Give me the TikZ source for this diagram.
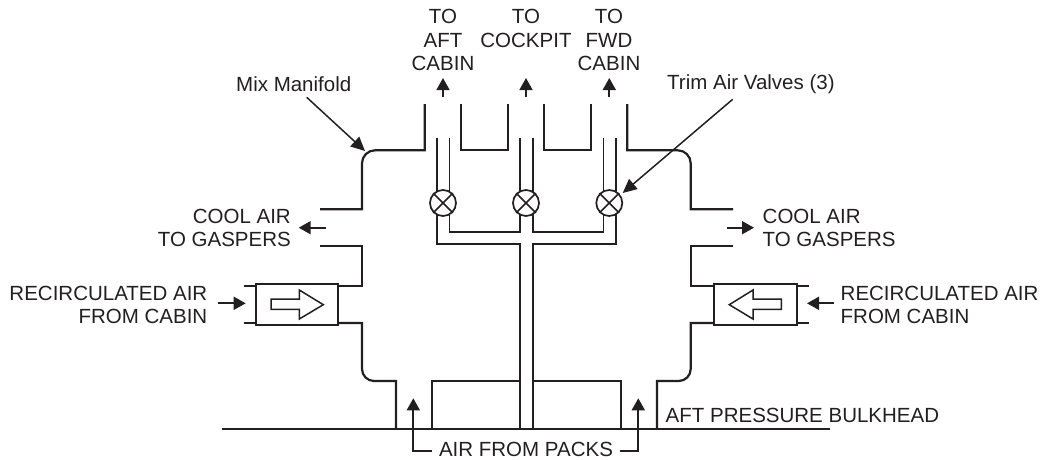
\documentclass[tikz,border=0pt]{standalone}
\usepackage{fontspec}
\setmainfont{Liberation Sans}
\usetikzlibrary{arrows.meta}
\definecolor{ink}{HTML}{231F20}
\tikzset{
  duct/.style={line width=2.2pt,color=ink,line join=miter},
  tube/.style={line width=1.6pt,color=ink},
  flow/.style={line width=1.7pt,color=ink,-{Triangle[length=12pt,width=13pt]}},
  leader/.style={line width=1.5pt,color=ink,-{Triangle[length=14pt,width=13pt]}},
  lbl/.style={inner sep=0pt,align=center,text=ink,font=\fontsize{20.5}{23.2}\selectfont},
  housing/.style={line width=1.7pt,color=ink,fill=white},
  valve/.style={circle,draw=ink,line width=1.7pt,fill=white,minimum size=26pt,inner sep=0pt}
}
\begin{document}
\begin{tikzpicture}[x=1pt,y=-1pt]
\useasboundingbox (0,0) rectangle (1041,459);
% manifold walls
\draw[duct] (424.7,104) -- (424.7,150.3) [rounded corners=13pt] -- (362,150.3) [sharp corners] -- (362,209.3) -- (320,209.3);
\draw[duct] (461.3,104) -- (461.3,150.3) -- (508,150.3) -- (508,104);
\draw[duct] (544,104) -- (544,150.3) -- (591,150.3) -- (591,104);
\draw[duct] (627.3,104) -- (627.3,150.3) [rounded corners=13pt] -- (690.7,150.3) [sharp corners] -- (690.7,209.3) -- (733,209.3);
\draw[duct] (320,246) -- (362,246) -- (362,286) -- (338,286);
\draw[duct] (733,246) -- (690.7,246) -- (690.7,286) -- (714,286);
\draw[duct] (338,323) -- (362,323) [rounded corners=12pt] -- (362,381) [sharp corners] -- (396,381) -- (396,429);
\draw[duct] (714,323) -- (690.7,323) [rounded corners=12pt] -- (690.7,381) [sharp corners] -- (657,381) -- (657,429);
\draw[duct] (432,429) -- (432,381) -- (519.7,381);
\draw[duct] (532.7,381) -- (621,381) -- (621,429);
\draw[duct,line width=1.8pt] (243.7,286) -- (256,286) (243.7,323) -- (256,323);
\draw[duct,line width=1.8pt] (797,286) -- (809,286) (797,323) -- (809,323);
% bulkhead
\draw[line width=2.4pt,color=ink] (222,429) -- (830,429);
% trim tubes
\draw[tube] (436.7,137.7) -- (436.7,243.7) -- (519.7,243.7) -- (519.7,429);
\draw[tube] (449.3,137.7) -- (449.3,231.7) -- (519.7,231.7) -- (519.7,137.7);
\draw[tube] (532.7,137.7) -- (532.7,231.7) -- (603.3,231.7) -- (603.3,137.7);
\draw[tube] (616,137.7) -- (616,243.7) -- (532.7,243.7) -- (532.7,429);
% valves
\foreach \n/\x in {va/443,vc/526,vf/609.3}{
  \node[valve] (\n) at (\x,203) {};
  \draw[line width=1.6pt,color=ink] (\n.45) -- (\n.225) (\n.135) -- (\n.315);
}
% recirc housings
\node[housing,draw,minimum width=82.5pt,minimum height=41.5pt,inner sep=0pt] (hl) at (297,304.5) {};
\node[housing,draw,minimum width=83pt,minimum height=41.5pt,inner sep=0pt] (hr) at (755.5,304.5) {};
\draw[line width=1.5pt,color=ink,line join=miter] (271,299) -- (299.3,299) -- (299.3,290) -- (323.3,304.7) -- (299.3,319) -- (299.3,309.3) -- (271,309.3) -- cycle;
\draw[line width=1.5pt,color=ink,line join=miter] (781.3,299) -- (753,299) -- (753,290) -- (729.3,304.7) -- (753,319) -- (753,309.3) -- (781.3,309.3) -- cycle;
% labels
\node[lbl] (aft) at (443,40) {TO\\AFT\\CABIN};
\node[lbl] (ckp) at (526,28.5) {TO\\COCKPIT};
\node[lbl] (fwd) at (609,40) {TO\\FWD\\CABIN};
\node[lbl,anchor=west] (mix) at (236,84) {Mix Manifold};
\node[lbl,anchor=west] (trim) at (667,84) {Trim Air Valves (3)};
\node[lbl,anchor=east,align=right] (cl) at (291,228) {COOL AIR\\TO GASPERS};
\node[lbl,anchor=west,align=left] (cr) at (762.5,228) {COOL AIR\\TO GASPERS};
\node[lbl,anchor=east,align=right] (rl) at (207.5,305) {RECIRCULATED AIR\\FROM CABIN};
\node[lbl,anchor=west,align=left] (rr) at (840.5,305) {RECIRCULATED AIR\\FROM CABIN};
\node[lbl,anchor=west] (apb) at (665.5,415) {AFT PRESSURE BULKHEAD};
\node[lbl] (packs) at (526,449.4) {AIR FROM PACKS};
% flow arrows
\coordinate (a1) at (443,96.7); \coordinate (a2) at (443,78);
\coordinate (b1) at (526,96.7); \coordinate (b2) at (526,78);
\coordinate (c1) at (609.3,96.7); \coordinate (c2) at (609.3,78);
\draw[flow] (a1) -- (a2);
\draw[flow] (b1) -- (b2);
\draw[flow] (c1) -- (c2);
\coordinate (g1) at (325.7,227.7); \coordinate (g2) at (298.7,227.7);
\coordinate (g3) at (727,227.7); \coordinate (g4) at (754,227.7);
\draw[flow] (g1) -- (g2);
\draw[flow] (g3) -- (g4);
\coordinate (r1) at (218,303.3); \coordinate (r2) at (245.7,303.3);
\coordinate (r3) at (834,303.3); \coordinate (r4) at (807,303.3);
\draw[flow] (r1) -- (r2);
\draw[flow] (r3) -- (r4);
\coordinate (p1) at (413.3,398.3); \coordinate (p2) at (638.3,398.3);
\coordinate (q1) at (432,451); \coordinate (q2) at (620,451);
\draw[flow] (q1) -- (413.3,451) -- (p1);
\draw[flow] (q2) -- (638.3,451) -- (p2);
% leaders
\coordinate (m1) at (306.7,97.3); \coordinate (m2) at (365,151);
\coordinate (t1) at (732.7,99.3); \coordinate (t2) at (622.7,193);
\draw[leader] (m1) -- (m2);
\draw[leader] (t1) -- (t2);
\end{tikzpicture}
\end{document}
